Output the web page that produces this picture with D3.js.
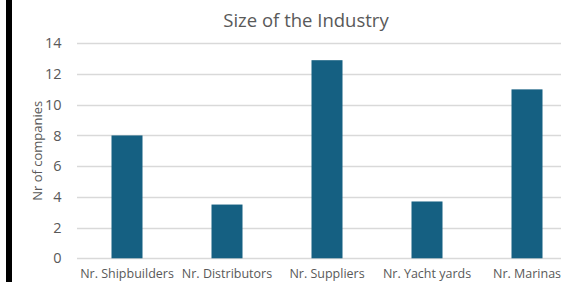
<!DOCTYPE html>
<html>
<head>
<meta charset="utf-8">
<script src="https://cdn.jsdelivr.net/npm/d3@7"></script>
<style>
  body { margin: 0; background: #fff; overflow: hidden; }
  svg { display: block; font-family: "Open Sans", "Noto Sans", sans-serif; }
</style>
</head>
<body>
<svg id="chart" width="561" height="282"></svg>
<script>
// chart data
const categories = ["Nr. Shipbuilders", "Nr. Distributors", "Nr. Suppliers", "Nr. Yacht yards", "Nr. Marinas"];
const companies = [8, 3.5, 12.9, 3.7, 11];
const yTicks = [0, 2, 4, 6, 8, 10, 12, 14];

const W = 561, H = 282;
const m = {top: 43.3, left: 77, plotRight: 577, bottom: 258.3};
const textColor = "#595959";

const svg = d3.select("#chart");

// frame stripe at the left edge
svg.append("rect")
    .attr("x", 6).attr("y", 0)
    .attr("width", 6).attr("height", H)
    .attr("fill", "#000");

const x = d3.scaleBand()
    .domain(categories)
    .range([m.left, m.plotRight])
    .paddingInner(0.69)
    .paddingOuter(0.345);

const y = d3.scaleLinear().domain([0, 14]).range([m.bottom, m.top]);

// gridlines
svg.append("g").selectAll("line")
    .data(yTicks)
    .join("line")
    .attr("x1", m.left)
    .attr("x2", m.plotRight)
    .attr("y1", d => Math.round(y(d)) + 0.5)
    .attr("y2", d => Math.round(y(d)) + 0.5)
    .attr("stroke", "#d9d9d9")
    .attr("stroke-width", 1.3);

// y axis labels
const yAxis = d3.axisLeft(y).tickValues(yTicks).tickSize(0).tickPadding(0);
const gy = svg.append("g")
    .attr("transform", `translate(61.5,0)`)
    .call(yAxis);
gy.select(".domain").remove();
gy.selectAll("text")
    .attr("fill", textColor)
    .attr("font-size", "14.5px")
    .attr("font-family", "\"Open Sans\", sans-serif");

// bars
svg.append("g").selectAll("rect")
    .data(companies)
    .join("rect")
    .attr("x", (d, i) => x(categories[i]))
    .attr("width", x.bandwidth())
    .attr("y", d => y(d))
    .attr("height", d => y(0) - y(d))
    .attr("fill", "#156082");

// x axis labels
const xAxis = d3.axisBottom(x).tickSize(0).tickPadding(0);
const gx = svg.append("g")
    .attr("transform", `translate(0,${m.bottom + 10.5})`)
    .call(xAxis);
gx.select(".domain").remove();
gx.selectAll("text")
    .attr("fill", textColor)
    .attr("font-size", "12.5px")
    .attr("font-family", "\"Open Sans\", sans-serif");

// title
svg.append("text")
    .attr("x", 306)
    .attr("y", 27)
    .attr("text-anchor", "middle")
    .attr("fill", textColor)
    .attr("font-size", "18.5px")
    .text("Size of the Industry");

// y axis title
svg.append("text")
    .attr("transform", `translate(42,${(m.top + m.bottom) / 2}) rotate(-90)`)
    .attr("text-anchor", "middle")
    .attr("fill", textColor)
    .attr("font-size", "13px")
    .text("Nr of companies");
</script>
</body>
</html>
